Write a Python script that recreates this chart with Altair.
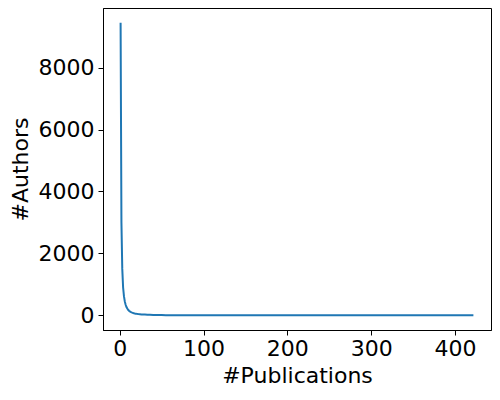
import altair as alt
import pandas as pd

publications = [1, 2, 3, 4, 5, 6, 7, 8, 9, 10, 11, 12, 13, 14, 15, 16, 17, 18, 19, 20,
                22, 24, 26, 28, 30, 33, 36, 40, 45, 50, 55, 60, 70, 80, 90, 100, 110,
                120, 140, 160, 180, 200, 230, 260, 300, 350, 422]
authors = [9450, 3000, 1500, 900, 620, 450, 340, 270, 220, 180, 150, 130, 112, 98, 86,
           76, 68, 61, 55, 50, 42, 36, 31, 27, 24, 20, 17, 14, 11, 9, 7, 6, 5, 4, 3, 3,
           2, 2, 2, 1, 1, 1, 1, 1, 1, 1, 1]

x_ticks = [0, 100, 200, 300, 400]
y_ticks = [0, 2000, 4000, 6000, 8000]

df = pd.DataFrame({"pubs": publications, "authors": authors})

font = "DejaVu Sans"

chart = alt.Chart(df).mark_line(color="#1f77b4", strokeWidth=2, clip=True).encode(
    x=alt.X("pubs:Q", title="#Publications",
            scale=alt.Scale(domain=[-20, 443], nice=False, zero=False),
            axis=alt.Axis(values=x_ticks, format="d", grid=False, tickColor="black", tickSize=5,
                          domainColor="black", labelColor="black", labelFontSize=22,
                          titleFontSize=22, titleFontWeight="normal", titleColor="black",
                          labelFont=font, titleFont=font, labelPadding=3, titlePadding=6,
                          labelFlush=False)),
    y=alt.Y("authors:Q", title="#Authors",
            scale=alt.Scale(domain=[-473, 9923], nice=False, zero=False),
            axis=alt.Axis(values=y_ticks, format="d", grid=False, tickColor="black", tickSize=5,
                          domainColor="black", labelColor="black", labelFontSize=22,
                          titleFontSize=22, titleFontWeight="normal", titleColor="black",
                          labelFont=font, titleFont=font, labelPadding=4, titlePadding=6,
                          labelFlush=False)),
    order="pubs:Q",
).properties(
    width=388, height=322,
    autosize=alt.AutoSizeParams(type="none"),
    padding={"left": 95, "top": 0, "right": 1, "bottom": 62},
).configure(background="white").configure_view(stroke="black", strokeWidth=1)

chart.save("out.html", embed_options={"renderer": "svg", "actions": False})
